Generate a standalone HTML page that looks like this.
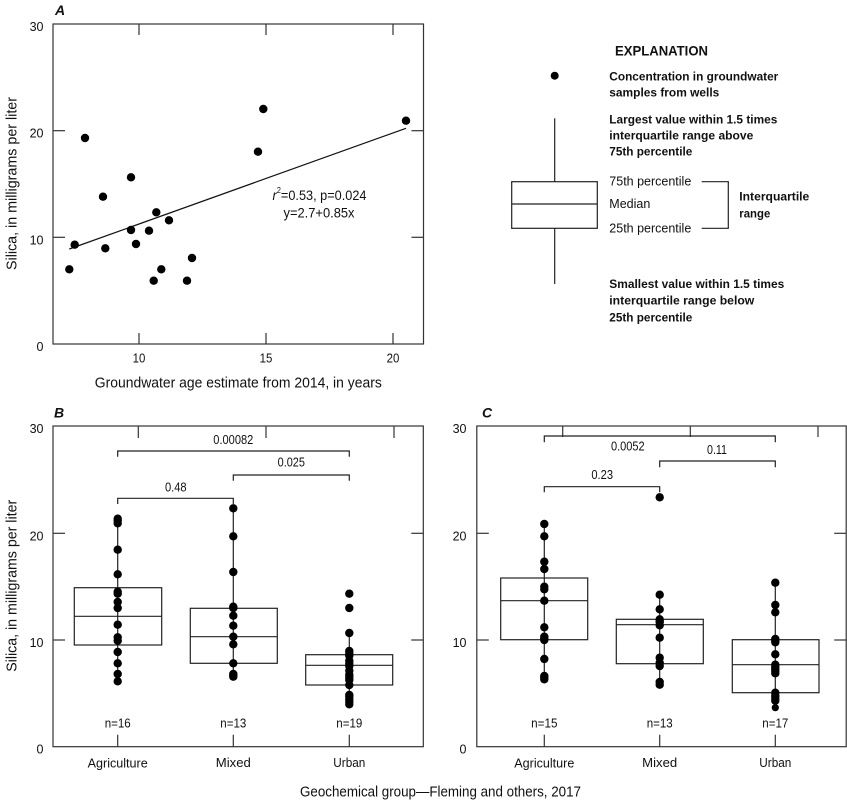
<!DOCTYPE html>
<html><head><meta charset="utf-8"><style>
html,body{margin:0;padding:0;background:#fff;}
svg{display:block;}
text{font-family:"Liberation Sans Narrow","Liberation Sans",sans-serif;fill:#111;}
.b{font-weight:bold;}
</style></head><body>
<svg width="847" height="802" viewBox="0 0 847 802" xmlns="http://www.w3.org/2000/svg">
<rect width="847" height="802" fill="#fff"/>

<!-- ============ PANEL A ============ -->
<text x="55" y="15" class="b" font-style="italic" font-size="14">A</text>
<g stroke="#333" stroke-width="1.2" fill="none">
  <rect x="53" y="24" width="370.5" height="320"/>
  <line x1="53" y1="130.7" x2="65" y2="130.7"/>
  <line x1="53" y1="237.3" x2="65" y2="237.3"/>
  <line x1="411.5" y1="130.7" x2="423.5" y2="130.7"/>
  <line x1="411.5" y1="237.3" x2="423.5" y2="237.3"/>
  <line x1="139" y1="24" x2="139" y2="35"/>
  <line x1="266" y1="24" x2="266" y2="35"/>
  <line x1="393" y1="24" x2="393" y2="35"/>
  <line x1="139" y1="344" x2="139" y2="333"/>
  <line x1="266" y1="344" x2="266" y2="333"/>
  <line x1="393" y1="344" x2="393" y2="333"/>
  <line x1="69.3" y1="249" x2="406" y2="128.3" stroke="#111"/>
</g>
<g font-size="12.5" text-anchor="end" dominant-baseline="central">
  <text x="43.5" y="27">30</text>
  <text x="43.5" y="133.7">20</text>
  <text x="43.5" y="240.3">10</text>
  <text x="43.5" y="347">0</text>
</g>
<g font-size="12.5" text-anchor="middle" dominant-baseline="central">
  <text x="139" y="358.5" textLength="12.7" lengthAdjust="spacingAndGlyphs">10</text>
  <text x="266" y="358.5" textLength="12.7" lengthAdjust="spacingAndGlyphs">15</text>
  <text x="393" y="358.5" textLength="12.7" lengthAdjust="spacingAndGlyphs">20</text>
</g>
<text x="238.3" y="383" font-size="15" text-anchor="middle" dominant-baseline="central" textLength="287" lengthAdjust="spacingAndGlyphs">Groundwater age estimate from 2014, in years</text>
<text x="0" y="0" font-size="15" text-anchor="middle" dominant-baseline="central" textLength="173" lengthAdjust="spacingAndGlyphs" transform="translate(12,183.5) rotate(-90)">Silica, in milligrams per liter</text>
<text x="319.5" y="195" font-size="13.5" text-anchor="middle" dominant-baseline="central" textLength="94" lengthAdjust="spacingAndGlyphs"><tspan font-style="italic">r</tspan><tspan font-size="8" dy="-5">2</tspan><tspan dy="5">=0.53, p=0.024</tspan></text>
<text x="319" y="213" font-size="13.5" text-anchor="middle" dominant-baseline="central" textLength="71" lengthAdjust="spacingAndGlyphs">y=2.7+0.85x</text>
<g fill="#000">
  <circle cx="69.3" cy="269.3" r="4.2"/>
  <circle cx="74.7" cy="244.7" r="4.2"/>
  <circle cx="85" cy="138" r="4.2"/>
  <circle cx="103" cy="196.7" r="4.2"/>
  <circle cx="105.3" cy="248.3" r="4.2"/>
  <circle cx="131" cy="177.3" r="4.2"/>
  <circle cx="131" cy="230" r="4.2"/>
  <circle cx="136" cy="244" r="4.2"/>
  <circle cx="149" cy="230.7" r="4.2"/>
  <circle cx="156.3" cy="212.3" r="4.2"/>
  <circle cx="153.7" cy="280.7" r="4.2"/>
  <circle cx="161.3" cy="269.3" r="4.2"/>
  <circle cx="169" cy="220.3" r="4.2"/>
  <circle cx="187" cy="280.7" r="4.2"/>
  <circle cx="192" cy="258" r="4.2"/>
  <circle cx="258" cy="151.7" r="4.2"/>
  <circle cx="263.3" cy="109" r="4.2"/>
  <circle cx="406" cy="120.7" r="4.2"/>
</g>

<!-- ============ EXPLANATION ============ -->
<text x="615" y="50.7" class="b" font-size="14" dominant-baseline="central" textLength="93" lengthAdjust="spacingAndGlyphs">EXPLANATION</text>
<circle cx="554.7" cy="75.7" r="4" fill="#000"/>
<g class="b" font-size="12" font-weight="bold" dominant-baseline="central">
  <text x="609.3" y="76.7" textLength="169" lengthAdjust="spacingAndGlyphs">Concentration in groundwater</text>
  <text x="609.3" y="92.7" textLength="110" lengthAdjust="spacingAndGlyphs">samples from wells</text>
  <text x="609.3" y="119.3" textLength="168" lengthAdjust="spacingAndGlyphs">Largest value within 1.5 times</text>
  <text x="609.3" y="135.3" textLength="144" lengthAdjust="spacingAndGlyphs">interquartile range above</text>
  <text x="609.3" y="151.7" textLength="83" lengthAdjust="spacingAndGlyphs">75th percentile</text>
  <text x="739.3" y="196.7" textLength="70" lengthAdjust="spacingAndGlyphs">Interquartile</text>
  <text x="739.3" y="213.3" textLength="31" lengthAdjust="spacingAndGlyphs">range</text>
  <text x="609.3" y="284" textLength="175" lengthAdjust="spacingAndGlyphs">Smallest value within 1.5 times</text>
  <text x="609.3" y="300.7" textLength="145" lengthAdjust="spacingAndGlyphs">interquartile range below</text>
  <text x="609.3" y="317.3" textLength="83" lengthAdjust="spacingAndGlyphs">25th percentile</text>
</g>
<g font-size="12.5" dominant-baseline="central">
  <text x="609.3" y="181.7" textLength="82" lengthAdjust="spacingAndGlyphs">75th percentile</text>
  <text x="609.3" y="204" textLength="41" lengthAdjust="spacingAndGlyphs">Median</text>
  <text x="609.3" y="228.3" textLength="82" lengthAdjust="spacingAndGlyphs">25th percentile</text>
</g>
<g stroke="#222" stroke-width="1.2" fill="none">
  <line x1="554.7" y1="118.3" x2="554.7" y2="181.7"/>
  <rect x="511.7" y="181.7" width="85.6" height="46.6"/>
  <line x1="511.7" y1="204" x2="597.3" y2="204"/>
  <line x1="554.7" y1="228.3" x2="554.7" y2="284"/>
  <polyline points="701.7,181.7 728.3,181.7 728.3,228.3 701.7,228.3"/>
</g>

<!-- ============ PANEL B ============ -->
<text x="54" y="417.5" class="b" font-style="italic" font-size="14">B</text>
<g stroke="#333" stroke-width="1.2" fill="none">
  <rect x="53" y="426" width="370.3" height="320.7"/>
  <line x1="53" y1="533.3" x2="65" y2="533.3"/>
  <line x1="53" y1="640" x2="65" y2="640"/>
  <line x1="411.3" y1="533.3" x2="423.3" y2="533.3"/>
  <line x1="411.3" y1="640" x2="423.3" y2="640"/>
  <line x1="138.3" y1="426" x2="138.3" y2="438"/>
  <line x1="266" y1="426" x2="266" y2="438"/>
  <line x1="394" y1="426" x2="394" y2="438"/>
  <line x1="117.7" y1="746.7" x2="117.7" y2="734.7"/>
  <line x1="233.3" y1="746.7" x2="233.3" y2="734.7"/>
  <line x1="349.3" y1="746.7" x2="349.3" y2="734.7"/>
  <polyline points="117.7,456.7 117.7,451 349.3,451 349.3,456.7" stroke="#222"/>
  <polyline points="233.3,480.7 233.3,475 349.3,475 349.3,480.7" stroke="#222"/>
  <polyline points="117.7,504 117.7,498.3 233.3,498.3 233.3,504" stroke="#222"/>
  <line x1="117.7" y1="518.7" x2="117.7" y2="681.3" stroke="#222"/>
  <line x1="233.3" y1="508.3" x2="233.3" y2="676.7" stroke="#222"/>
  <line x1="349.3" y1="633" x2="349.3" y2="704.3" stroke="#222"/>
  <rect x="74.3" y="587.7" width="87.4" height="57.3" fill="none" stroke="#222"/>
  <line x1="74.3" y1="616.3" x2="161.7" y2="616.3" stroke="#222"/>
  <rect x="190.3" y="608.3" width="87" height="55" fill="none" stroke="#222"/>
  <line x1="190.3" y1="636.7" x2="277.3" y2="636.7" stroke="#222"/>
  <rect x="305.7" y="654.7" width="87" height="30.3" fill="none" stroke="#222"/>
  <line x1="305.7" y1="665.3" x2="392.7" y2="665.3" stroke="#222"/>
</g>
<g font-size="12.5" text-anchor="end" dominant-baseline="central">
  <text x="43.5" y="429">30</text>
  <text x="43.5" y="536.3">20</text>
  <text x="43.5" y="643">10</text>
  <text x="43.5" y="749.7">0</text>
</g>
<text x="0" y="0" font-size="15" text-anchor="middle" dominant-baseline="central" textLength="172" lengthAdjust="spacingAndGlyphs" transform="translate(12,585.8) rotate(-90)">Silica, in milligrams per liter</text>
<g font-size="12.5" text-anchor="middle" dominant-baseline="central">
  <text x="233.3" y="440" textLength="40" lengthAdjust="spacingAndGlyphs">0.00082</text>
  <text x="291.3" y="462.7" textLength="27.3" lengthAdjust="spacingAndGlyphs">0.025</text>
  <text x="175.8" y="487.3" textLength="21.7" lengthAdjust="spacingAndGlyphs">0.48</text>
  <text x="117.7" y="723.3" textLength="26" lengthAdjust="spacingAndGlyphs">n=16</text>
  <text x="233.3" y="723.3" textLength="26" lengthAdjust="spacingAndGlyphs">n=13</text>
  <text x="349.3" y="723.3" textLength="26" lengthAdjust="spacingAndGlyphs">n=19</text>
  <text x="117.7" y="763.3" textLength="60" lengthAdjust="spacingAndGlyphs">Agriculture</text>
  <text x="233.3" y="763" textLength="35" lengthAdjust="spacingAndGlyphs">Mixed</text>
  <text x="349.3" y="763" textLength="32" lengthAdjust="spacingAndGlyphs">Urban</text>
</g>
<g fill="#000">
  <circle cx="117.7" cy="518.7" r="4.2"/><circle cx="117.7" cy="520.7" r="4.2"/><circle cx="117.7" cy="523.3" r="4.2"/>
  <circle cx="117.7" cy="549.7" r="4.2"/><circle cx="117.7" cy="574.3" r="4.2"/><circle cx="117.7" cy="591.7" r="4.2"/>
  <circle cx="117.7" cy="593.7" r="4.2"/><circle cx="117.7" cy="602" r="4.2"/><circle cx="117.7" cy="608" r="4.2"/>
  <circle cx="117.7" cy="624.7" r="4.2"/><circle cx="117.7" cy="637.3" r="4.2"/><circle cx="117.7" cy="640.7" r="4.2"/>
  <circle cx="117.7" cy="652" r="4.2"/><circle cx="117.7" cy="663.3" r="4.2"/><circle cx="117.7" cy="674" r="4.2"/>
  <circle cx="117.7" cy="681.3" r="4.2"/>

  <circle cx="233.3" cy="508.3" r="4.2"/><circle cx="233.3" cy="536.3" r="4.2"/><circle cx="233.3" cy="572" r="4.2"/>
  <circle cx="233.3" cy="606.7" r="4.2"/><circle cx="233.3" cy="608" r="4.2"/><circle cx="233.3" cy="615.7" r="4.2"/>
  <circle cx="233.3" cy="625.7" r="4.2"/><circle cx="233.3" cy="636.7" r="4.2"/><circle cx="233.3" cy="644.3" r="4.2"/>
  <circle cx="233.3" cy="663.3" r="4.2"/><circle cx="233.3" cy="674" r="4.2"/><circle cx="233.3" cy="675.3" r="4.2"/>
  <circle cx="233.3" cy="676.7" r="4.2"/>

  <circle cx="349.3" cy="593.7" r="4.2"/><circle cx="349.3" cy="608" r="4.2"/><circle cx="349.3" cy="633" r="4.2"/>
  <circle cx="349.3" cy="651" r="4.2"/><circle cx="349.3" cy="653.3" r="4.2"/><circle cx="349.3" cy="655.7" r="4.2"/>
  <circle cx="349.3" cy="660.7" r="4.2"/><circle cx="349.3" cy="663.3" r="4.2"/><circle cx="349.3" cy="666" r="4.2"/>
  <circle cx="349.3" cy="670.7" r="4.2"/><circle cx="349.3" cy="675" r="4.2"/><circle cx="349.3" cy="677.3" r="4.2"/>
  <circle cx="349.3" cy="680" r="4.2"/><circle cx="349.3" cy="685" r="4.2"/><circle cx="349.3" cy="695" r="4.2"/>
  <circle cx="349.3" cy="696.7" r="4.2"/><circle cx="349.3" cy="699.3" r="4.2"/><circle cx="349.3" cy="701.7" r="4.2"/>
  <circle cx="349.3" cy="704.3" r="4.2"/>
</g>

<!-- ============ PANEL C ============ -->
<text x="482" y="417.5" class="b" font-style="italic" font-size="14">C</text>
<g stroke="#333" stroke-width="1.2" fill="none">
  <rect x="476.8" y="426" width="369.4" height="320.7"/>
  <line x1="476.8" y1="533.3" x2="488.8" y2="533.3"/>
  <line x1="476.8" y1="640" x2="488.8" y2="640"/>
  <line x1="834.2" y1="533.3" x2="846.2" y2="533.3"/>
  <line x1="834.2" y1="640" x2="846.2" y2="640"/>
  <line x1="562.7" y1="426" x2="562.7" y2="437"/>
  <line x1="690.3" y1="426" x2="690.3" y2="437"/>
  <line x1="818" y1="426" x2="818" y2="437"/>
  <line x1="544.3" y1="746.7" x2="544.3" y2="734.7"/>
  <line x1="659.7" y1="746.7" x2="659.7" y2="734.7"/>
  <line x1="775.3" y1="746.7" x2="775.3" y2="734.7"/>
  <polyline points="544.3,442.3 544.3,436 775.3,436 775.3,442.3" stroke="#222"/>
  <polyline points="659.7,467.3 659.7,461 775.3,461 775.3,467.3" stroke="#222"/>
  <polyline points="544.3,492.3 544.3,486.7 659.7,486.7 659.7,492.3" stroke="#222"/>
  <line x1="544.3" y1="524" x2="544.3" y2="679.3" stroke="#222"/>
  <line x1="659.7" y1="594.7" x2="659.7" y2="684.7" stroke="#222"/>
  <line x1="775.3" y1="582.7" x2="775.3" y2="707.7" stroke="#222"/>
  <rect x="500.7" y="578" width="87" height="61.7" fill="none" stroke="#222"/>
  <line x1="500.7" y1="600.7" x2="587.7" y2="600.7" stroke="#222"/>
  <rect x="616.3" y="619.3" width="87" height="44.4" fill="none" stroke="#222"/>
  <line x1="616.3" y1="624.7" x2="703.3" y2="624.7" stroke="#222"/>
  <rect x="732.3" y="639.7" width="86.7" height="53" fill="none" stroke="#222"/>
  <line x1="732.3" y1="664.7" x2="819" y2="664.7" stroke="#222"/>
</g>
<g font-size="12.5" text-anchor="end" dominant-baseline="central">
  <text x="466.5" y="429">30</text>
  <text x="466.5" y="536.3">20</text>
  <text x="466.5" y="643">10</text>
  <text x="466.5" y="749.7">0</text>
</g>
<g font-size="12.5" text-anchor="middle" dominant-baseline="central">
  <text x="627.8" y="446.7" textLength="33.7" lengthAdjust="spacingAndGlyphs">0.0052</text>
  <text x="717" y="450" textLength="20" lengthAdjust="spacingAndGlyphs">0.11</text>
  <text x="602.2" y="475" textLength="21.7" lengthAdjust="spacingAndGlyphs">0.23</text>
  <text x="544.3" y="723.3" textLength="26.3" lengthAdjust="spacingAndGlyphs">n=15</text>
  <text x="659.7" y="723.3" textLength="26" lengthAdjust="spacingAndGlyphs">n=13</text>
  <text x="775.3" y="723.3" textLength="26" lengthAdjust="spacingAndGlyphs">n=17</text>
  <text x="544.3" y="763.3" textLength="60" lengthAdjust="spacingAndGlyphs">Agriculture</text>
  <text x="659.7" y="763" textLength="35" lengthAdjust="spacingAndGlyphs">Mixed</text>
  <text x="775.3" y="763" textLength="32" lengthAdjust="spacingAndGlyphs">Urban</text>
</g>
<g fill="#000">
  <circle cx="544.3" cy="524" r="4.2"/><circle cx="544.3" cy="536.3" r="4.2"/><circle cx="544.3" cy="561.7" r="4.2"/>
  <circle cx="544.3" cy="569" r="4.2"/><circle cx="544.3" cy="586.7" r="4.2"/><circle cx="544.3" cy="589.3" r="4.2"/>
  <circle cx="544.3" cy="600.7" r="4.2"/><circle cx="544.3" cy="627.3" r="4.2"/><circle cx="544.3" cy="636.7" r="4.2"/>
  <circle cx="544.3" cy="638.3" r="4.2"/><circle cx="544.3" cy="640" r="4.2"/><circle cx="544.3" cy="659" r="4.2"/>
  <circle cx="544.3" cy="676" r="4.2"/><circle cx="544.3" cy="677.7" r="4.2"/><circle cx="544.3" cy="679.3" r="4.2"/>

  <circle cx="659.7" cy="497.3" r="4.2"/><circle cx="659.7" cy="594.7" r="4.2"/><circle cx="659.7" cy="609.3" r="4.2"/>
  <circle cx="659.7" cy="619.3" r="4.2"/><circle cx="659.7" cy="620.7" r="4.2"/><circle cx="659.7" cy="622.3" r="4.2"/>
  <circle cx="659.7" cy="625.3" r="4.2"/><circle cx="659.7" cy="637.7" r="4.2"/><circle cx="659.7" cy="657.7" r="4.2"/>
  <circle cx="659.7" cy="662.7" r="4.2"/><circle cx="659.7" cy="666" r="4.2"/><circle cx="659.7" cy="682" r="4.2"/>
  <circle cx="659.7" cy="684.7" r="4.2"/>

  <circle cx="775.3" cy="582.7" r="4.2"/><circle cx="775.3" cy="605" r="4.2"/><circle cx="775.3" cy="612.3" r="4.2"/>
  <circle cx="775.3" cy="639" r="4.2"/><circle cx="775.3" cy="640.7" r="4.2"/><circle cx="775.3" cy="642.3" r="4.2"/>
  <circle cx="775.3" cy="654.3" r="4.2"/><circle cx="775.3" cy="664.7" r="4.2"/><circle cx="775.3" cy="666.7" r="4.2"/>
  <circle cx="775.3" cy="668.7" r="4.2"/><circle cx="775.3" cy="671" r="4.2"/><circle cx="775.3" cy="673.3" r="4.2"/>
  <circle cx="775.3" cy="692.7" r="4.2"/><circle cx="775.3" cy="696" r="4.2"/><circle cx="775.3" cy="698.3" r="4.2"/>
  <circle cx="775.3" cy="700.7" r="4.2"/><circle cx="775.3" cy="707.7" r="3.6"/>
</g>

<text x="300" y="792" font-size="15" dominant-baseline="central" textLength="281" lengthAdjust="spacingAndGlyphs">Geochemical group—Fleming and others, 2017</text>
</svg>
</body></html>
